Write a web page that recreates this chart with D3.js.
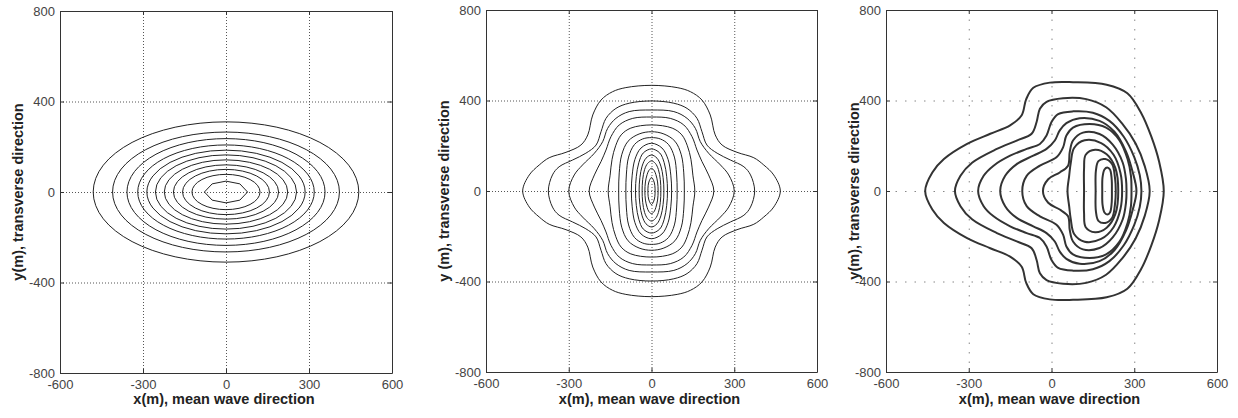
<!DOCTYPE html>
<html>
<head>
<meta charset="utf-8">
<script src="https://cdn.jsdelivr.net/npm/d3@7"></script>
<style>
  body { margin: 0; background: #fff; }
  svg { display: block; }
  text { font-family: Arial, "Liberation Sans", sans-serif; }
</style>
</head>
<body>
<svg id="chart" width="1238" height="418"></svg>
<script>
const xTicks = [-600, -300, 0, 300, 600];
const yTicks = [-800, -400, 0, 400, 800];

// panel 1: nested ellipses, semi-axes in m (outer -> inner) + the small core polygon
const p1Rx = [480, 410, 358, 319, 286, 255, 223, 190, 157, 123];
const p1Ry = [310, 265, 236, 208, 185, 164, 142, 120, 100, 78];
const p1Core = [[-78, 0], [-50, 36], [0, 48], [50, 36], [78, 0], [50, -36], [0, -48], [-50, -36]];

// panel 2: upper-left quarter of each contour, from the x axis round to the y axis
const p2Quarters = [
  [[-467, 0], [-443, 71], [-407, 115], [-371, 147], [-310, 171], [-256, 203], [-231, 248], [-213, 336], [-183, 402], [-141, 439], [-93, 457], [0, 467]],
  [[-374, 0], [-359, 71], [-335, 107], [-286, 137], [-238, 167], [-201, 203], [-183, 262], [-165, 321], [-129, 365], [-81, 388], [0, 398]],
  [[-300, 0], [-280, 71], [-250, 115], [-207, 167], [-177, 218], [-159, 277], [-129, 321], [-81, 351], [0, 358]],
  [[-226, 0], [-207, 71], [-183, 130], [-165, 181], [-147, 240], [-117, 292], [-68, 321], [0, 327]],
  [[-157, 0], [-150, 70], [-143, 140], [-130, 200], [-110, 248], [-75, 278], [0, 292]],
  [[-119, 0], [-117, 80], [-108, 160], [-85, 220], [-45, 252], [0, 262]],
  [[-93, 0], [-91, 75], [-83, 150], [-62, 205], [-32, 230], [0, 236]],
  [[-73, 0], [-70, 70], [-60, 140], [-38, 190], [0, 211]],
  [[-58, 0], [-55, 65], [-46, 125], [-30, 168], [0, 186]],
  [[-45, 0], [-42, 60], [-34, 110], [-20, 145], [0, 159]],
  [[-34, 0], [-32, 50], [-25, 95], [-14, 122], [0, 133]],
  [[-24, 0], [-22, 40], [-16, 72], [-9, 92], [0, 100]],
  [[-13, 0], [-12, 25], [-8, 45], [0, 60]]
];

// panel 3: upper half of each contour, left crossing -> over the top -> right crossing
const p3Halves = [
  [[-458, 0], [-432, 82], [-390, 141], [-306, 208], [-222, 253], [-150, 290], [-108, 335], [-92, 405], [-66, 456], [-6, 479], [78, 481], [200, 470], [275, 432], [325, 345], [362, 240], [390, 130], [407, 0]],
  [[-350, 0], [-330, 67], [-288, 125], [-198, 186], [-126, 223], [-72, 253], [-54, 305], [-42, 364], [-18, 394], [42, 410], [126, 406], [198, 370], [255, 300], [305, 210], [338, 110], [356, 0]],
  [[-266, 0], [-246, 67], [-210, 112], [-150, 156], [-90, 186], [-42, 208], [-18, 245], [0, 305], [24, 340], [78, 352], [150, 346], [210, 310], [262, 240], [300, 150], [320, 70], [326, 0]],
  [[-186, 0], [-168, 67], [-126, 119], [-66, 156], [-18, 186], [12, 223], [30, 268], [54, 300], [102, 322], [174, 310], [228, 262], [270, 175], [294, 85], [308, 0]],
  [[-106, 0], [-90, 67], [-42, 112], [18, 149], [42, 193], [54, 245], [78, 280], [138, 296], [198, 280], [246, 225], [276, 140], [288, 67], [290, 0]],
  [[-31, 0], [-12, 52], [30, 82], [60, 112], [66, 171], [78, 223], [114, 258], [174, 252], [222, 205], [258, 126], [270, 52], [272, 0]],
  [[58, 0], [64, 67], [70, 126], [82, 190], [120, 224], [180, 212], [225, 160], [250, 80], [256, 0]],
  [[118, 0], [118, 97], [124, 160], [158, 182], [200, 162], [232, 100], [242, 0]],
  [[160, 0], [161, 90], [170, 132], [195, 141], [220, 118], [230, 60], [233, 0]],
  [[184, 0], [185, 60], [192, 95], [202, 104], [212, 95], [218, 55], [219, 0]]
];

const panels = [
  { left: 60, right: 392, top: 11, bottom: 373, ylab: "y(m), transverse direction", ylabX: 18, grid: "1,2", gridColor: "#555", lineW: 1 },
  { left: 486, right: 817, top: 10, bottom: 372, ylab: "y (m), transverse direction", ylabX: 444, grid: "1,2", gridColor: "#555", lineW: 1 },
  { left: 886, right: 1217, top: 10, bottom: 372, ylab: "y(m), transverse direction", ylabX: 854, grid: "1.5,8", gridColor: "#888", lineW: 2 }
];

const svg = d3.select("#chart");

function mirrorQuarter(q) {
  const ul = q;
  const ur = q.slice(0, -1).reverse().map(([a, b]) => [-a, b]);
  const lr = q.slice(1).map(([a, b]) => [-a, -b]);
  const ll = q.slice(1, -1).reverse().map(([a, b]) => [a, -b]);
  return ul.concat(ur, lr, ll);
}

function mirrorHalf(h) {
  return h.concat(h.slice(1, -1).reverse().map(([a, b]) => [a, -b]));
}

const plain = d => String(d);

panels.forEach((p, i) => {
  const x = d3.scaleLinear().domain([-600, 600]).range([p.left, p.right]);
  const y = d3.scaleLinear().domain([-800, 800]).range([p.bottom, p.top]);
  const g = svg.append("g");

  // grid
  g.selectAll(".gx").data(xTicks.slice(1, -1)).enter().append("line")
    .attr("x1", d => x(d) + 0.5).attr("x2", d => x(d) + 0.5)
    .attr("y1", p.top).attr("y2", p.bottom)
    .attr("stroke", p.gridColor).attr("stroke-dasharray", p.grid);
  g.selectAll(".gy").data(yTicks.slice(1, -1)).enter().append("line")
    .attr("y1", d => y(d) + 0.5).attr("y2", d => y(d) + 0.5)
    .attr("x1", p.left).attr("x2", p.right)
    .attr("stroke", p.gridColor).attr("stroke-dasharray", p.grid);

  // contours
  const line = d3.line().x(d => x(d[0])).y(d => y(d[1]));
  if (i === 0) {
    g.selectAll("ellipse").data(p1Rx).enter().append("ellipse")
      .attr("cx", x(0)).attr("cy", y(0))
      .attr("rx", d => x(d) - x(0))
      .attr("ry", (d, k) => y(0) - y(p1Ry[k]))
      .attr("fill", "none").attr("stroke", "#222").attr("stroke-width", p.lineW);
    g.append("path").attr("d", line.curve(d3.curveLinearClosed)(p1Core))
      .attr("fill", "none").attr("stroke", "#222").attr("stroke-width", p.lineW);
  } else {
    const shapes = i === 1 ? p2Quarters.map(mirrorQuarter) : p3Halves.map(mirrorHalf);
    g.selectAll("path.c").data(shapes).enter().append("path")
      .attr("class", "c")
      .attr("d", line.curve(d3.curveCatmullRomClosed.alpha(0.5)))
      .attr("fill", "none").attr("stroke", i === 2 ? "#333" : "#222")
      .attr("stroke-width", p.lineW);
  }

  // frame + inward ticks
  g.append("g").attr("transform", `translate(0,${p.bottom})`)
    .call(d3.axisBottom(x).tickValues(xTicks).tickSizeInner(-4).tickSizeOuter(0).tickPadding(7).tickFormat(plain));
  g.append("g").attr("transform", `translate(0,${p.top})`)
    .call(d3.axisTop(x).tickValues(xTicks).tickSizeInner(-4).tickSizeOuter(0).tickFormat(""));
  g.append("g").attr("transform", `translate(${p.left},0)`)
    .call(d3.axisLeft(y).tickValues(yTicks).tickSizeInner(-4).tickSizeOuter(0).tickPadding(5).tickFormat(plain));
  g.append("g").attr("transform", `translate(${p.right},0)`)
    .call(d3.axisRight(y).tickValues(yTicks).tickSizeInner(-4).tickSizeOuter(0).tickFormat(""));

  g.selectAll(".domain, .tick line").attr("stroke", "#333");
  g.selectAll(".tick text").attr("font-size", 13).attr("fill", "#444")
    .attr("font-family", "Arial, 'Liberation Sans', sans-serif");

  // axis titles
  g.append("text").attr("x", (p.left + p.right) / 2 - 2).attr("y", 404)
    .attr("text-anchor", "middle").attr("font-size", 14.5).attr("font-weight", "bold").attr("fill", "#222")
    .text("x(m), mean wave direction");
  g.append("text").attr("transform", `translate(${p.ylabX},${(p.top + p.bottom) / 2}) rotate(-90)`)
    .attr("text-anchor", "middle").attr("dominant-baseline", "central")
    .attr("font-size", 14.5).attr("font-weight", "bold").attr("fill", "#222")
    .text(p.ylab);
});
</script>
</body>
</html>
